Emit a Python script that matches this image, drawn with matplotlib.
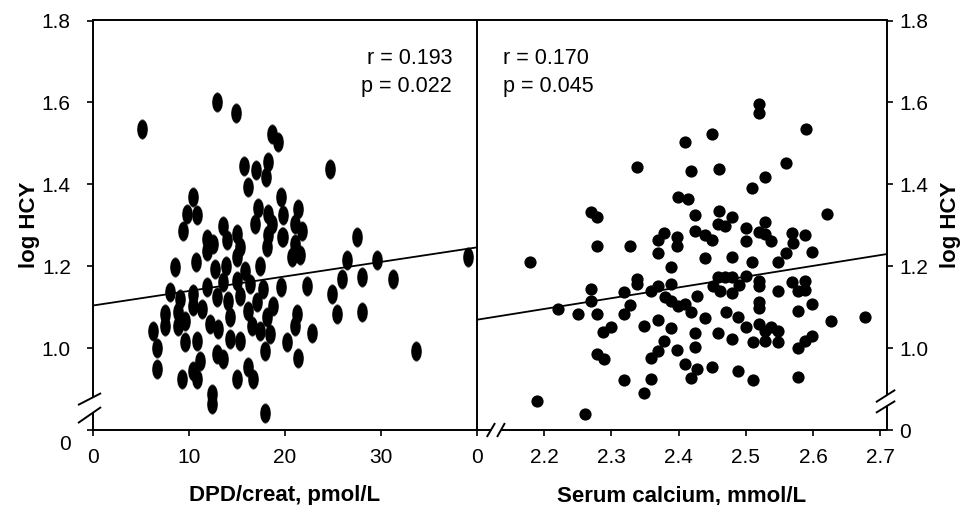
import numpy as np
import matplotlib
matplotlib.use("Agg")
import matplotlib.pyplot as plt
from matplotlib.transforms import ScaledTranslation

plt.rcParams['font.family'] = ['Liberation Sans', 'DejaVu Sans']

# left panel: DPD/creat (pmol/L) vs log HCY
dpd = [5.07, 12.89, 14.86, 18.61, 19.30, 15.76, 16.95, 18.20, 18.02, 16.18,
       19.58, 10.45, 9.76, 10.80, 9.41, 13.57, 16.88, 18.26, 18.61, 18.26,
       19.66, 11.84, 12.53, 13.93, 14.97, 15.31, 18.09, 11.84, 24.69, 21.39,
       21.04, 19.82, 21.74, 21.04, 21.56, 27.47, 26.43, 29.55, 39.09, 20.70,
       19.58, 22.26, 25.91, 27.99, 31.28, 24.86, 21.22, 21.04, 22.78, 25.39,
       27.99, 20.18, 21.39, 33.65, 8.54, 10.73, 14.97, 12.71, 13.57, 14.97,
       16.35, 17.74, 8.02, 9.06, 10.45, 11.84, 12.89, 7.50, 8.89, 10.45,
       11.32, 14.27, 16.18, 17.05, 18.09, 18.78, 7.50, 8.89, 6.28, 12.19,
       13.05, 14.27, 15.31, 17.40, 18.44, 6.64, 9.58, 10.80, 12.89, 13.57,
       17.92, 6.64, 11.15, 10.45, 16.18, 16.70, 14.97, 9.24, 10.80, 12.36,
       12.36, 17.92, 13.85, 15.83, 14.06, 15.31, 9.58, 16.56, 17.40, 19.79,
       17.19]
hcy_dpd = [1.536, 1.601, 1.575, 1.524, 1.503, 1.444, 1.434, 1.454, 1.419, 1.393,
           1.370, 1.369, 1.328, 1.324, 1.287, 1.299, 1.304, 1.328, 1.304, 1.275,
           1.271, 1.267, 1.255, 1.263, 1.279, 1.246, 1.246, 1.236, 1.438, 1.340,
           1.304, 1.271, 1.287, 1.255, 1.228, 1.271, 1.216, 1.214, 1.222, 1.222,
           1.150, 1.152, 1.169, 1.173, 1.169, 1.132, 1.083, 1.055, 1.038, 1.083,
           1.087, 1.015, 0.977, 0.993, 1.197, 1.210, 1.222, 1.193, 1.161, 1.165,
           1.157, 1.144, 1.136, 1.120, 1.132, 1.148, 1.124, 1.083, 1.087, 1.104,
           1.095, 1.075, 1.091, 1.112, 1.075, 1.104, 1.055, 1.055, 1.042, 1.059,
           1.047, 1.022, 1.018, 1.042, 1.034, 1.001, 1.014, 1.018, 0.985, 0.973,
           0.993, 0.949, 0.969, 0.944, 0.953, 0.924, 0.924, 0.924, 0.924, 0.887,
           0.863, 0.842, 1.201, 1.189, 1.116, 1.128, 1.067, 1.055, 1.201, 1.324,
           1.341]

# right panel: serum calcium (mmol/L) vs log HCY
calcium = [2.409, 2.338, 2.418, 2.399, 2.414, 2.269, 2.278, 2.424, 2.424, 2.278,
           2.327, 2.378, 2.369, 2.369, 2.398, 2.398, 2.179, 2.388, 2.338, 2.338,
           2.269, 2.269, 2.319, 2.359, 2.370, 2.388, 2.379, 2.389, 2.399, 2.409,
           2.419, 2.220, 2.250, 2.278, 2.327, 2.319, 2.299, 2.288, 2.349, 2.370,
           2.388, 2.424, 2.378, 2.369, 2.359, 2.398, 2.424, 2.278, 2.289, 2.409,
           2.419, 2.319, 2.359, 2.349, 2.189, 2.260, 2.520, 2.520, 2.449, 2.589,
           2.460, 2.559, 2.528, 2.509, 2.460, 2.479, 2.459, 2.469, 2.439, 2.449,
           2.500, 2.528, 2.520, 2.528, 2.500, 2.538, 2.569, 2.570, 2.588, 2.620,
           2.439, 2.479, 2.509, 2.559, 2.599, 2.548, 2.459, 2.469, 2.479, 2.451,
           2.461, 2.479, 2.490, 2.500, 2.520, 2.520, 2.548, 2.569, 2.588, 2.578,
           2.588, 2.427, 2.520, 2.520, 2.599, 2.578, 2.470, 2.439, 2.488, 2.500,
           2.520, 2.538, 2.548, 2.528, 2.627, 2.678, 2.459, 2.479, 2.510, 2.528,
           2.548, 2.599, 2.588, 2.578, 2.449, 2.427, 2.488, 2.510, 2.578]
hcy_ca = [1.503, 1.442, 1.432, 1.369, 1.365, 1.332, 1.321, 1.324, 1.287, 1.250,
          1.249, 1.281, 1.264, 1.232, 1.271, 1.250, 1.210, 1.197, 1.169, 1.157,
          1.144, 1.116, 1.136, 1.140, 1.152, 1.157, 1.124, 1.116, 1.104, 1.108,
          1.087, 1.095, 1.083, 1.083, 1.106, 1.083, 1.052, 1.040, 1.055, 1.069,
          1.049, 1.038, 1.018, 0.993, 0.977, 0.995, 1.003, 0.985, 0.973, 0.961,
          0.928, 0.922, 0.924, 0.891, 0.871, 0.840, 1.597, 1.574, 1.524, 1.534,
          1.438, 1.453, 1.418, 1.392, 1.334, 1.320, 1.302, 1.297, 1.275, 1.263,
          1.294, 1.307, 1.283, 1.279, 1.261, 1.261, 1.281, 1.256, 1.277, 1.328,
          1.220, 1.222, 1.210, 1.232, 1.234, 1.210, 1.173, 1.173, 1.173, 1.152,
          1.140, 1.134, 1.155, 1.175, 1.163, 1.152, 1.139, 1.161, 1.163, 1.140,
          1.142, 1.128, 1.112, 1.098, 1.108, 1.090, 1.087, 1.073, 1.077, 1.052,
          1.059, 1.052, 1.042, 1.042, 1.067, 1.077, 1.036, 1.022, 1.016, 1.018,
          1.016, 1.030, 1.018, 1.000, 0.953, 0.949, 0.943, 0.922, 0.930]

# regression lines
dpd_fit = (1.104, 0.00355)      # intercept, slope
ca_fit = (0.517, 0.263)

stats_dpd = ["r = 0.193", "p = 0.022"]
stats_ca = ["r = 0.170", "p = 0.045"]

y_ticks = [0.8, 1.0, 1.2, 1.4, 1.6, 1.8]
y_labels = ["0", "1.0", "1.2", "1.4", "1.6", "1.8"]
dpd_ticks = [0, 10, 20, 30]
ca_ticks = [2.1, 2.2, 2.3, 2.4, 2.5, 2.6, 2.7]
ca_labels = ["0", "2.2", "2.3", "2.4", "2.5", "2.6", "2.7"]

# jagged, tall blob marker for the left panel (streaky top and bottom)
t = np.linspace(0, 2 * np.pi, 61)[:-1]
spike = np.where(np.abs(np.sin(t)) > 0.45, 1 + 0.22 * (np.arange(t.size) % 2), 1.0)
blob = np.column_stack([0.6 * np.cos(t), np.sin(t) * spike])

LW = 1.4
TICK_FS = 15
fig = plt.figure(figsize=(9.66, 5.05), dpi=100)
ax1 = fig.add_axes([93 / 966, 75 / 505, 384 / 966, 409.5 / 505])
ax2 = fig.add_axes([477 / 966, 75 / 505, 410 / 966, 409.5 / 505])

ax1.scatter(dpd, hcy_dpd, marker=blob, s=15.5 ** 2, color="black", linewidths=0)
xs = np.array([0, 40])
ax1.plot(xs, dpd_fit[0] + dpd_fit[1] * xs, color="black", lw=1.3)

ax2.scatter(calcium, hcy_ca, marker="o", s=8.8 ** 2, color="black", linewidths=0)
xs = np.array([2.1, 2.71])
ax2.plot(xs, ca_fit[0] + ca_fit[1] * xs, color="black", lw=1.3)

ax1.set_xlim(0, 40)
ax2.set_xlim(2.1, 2.71)
for ax in (ax1, ax2):
    ax.set_ylim(0.8, 1.8)
    ax.set_yticks(y_ticks)
    ax.set_yticklabels(y_labels)
    ax.tick_params(direction="out", length=4, width=1.2, labelsize=TICK_FS, colors="black")
    ax.tick_params(axis="x", pad=9)
    for s in ax.spines.values():
        s.set_linewidth(LW)

ax1.tick_params(axis="y", pad=12)
ax2.tick_params(axis="y", pad=5)
ax1.set_xticks(dpd_ticks)
ax2.set_xticks(ca_ticks)
ax2.set_xticklabels(ca_labels)
ax2.yaxis.tick_right()
ax2.yaxis.set_label_position("right")

# the "0" under the left break sits a little below the axis line
zero_lab = ax1.get_yticklabels()[0]
zero_lab.set_transform(zero_lab.get_transform() + ScaledTranslation(0, -0.12, fig.dpi_scale_trans))

ax1.spines["right"].set_visible(False)
ax1.spines["left"].set_visible(False)
ax2.spines["right"].set_visible(False)
ax2.spines["bottom"].set_visible(False)

kw = dict(color="black", lw=LW, clip_on=False, solid_capstyle="butt")
# left spine with break
ax1.plot([0, 0], [0, 0.043], transform=ax1.transAxes, **kw)
ax1.plot([0, 0], [0.079, 1], transform=ax1.transAxes, **kw)
ax1.plot([-0.039, 0.021], [0.061, 0.090], transform=ax1.transAxes, **kw)
ax1.plot([-0.039, 0.021], [0.017, 0.056], transform=ax1.transAxes, **kw)
# right spine with break
ax2.plot([1, 1], [0, 0.058], transform=ax2.transAxes, **kw)
ax2.plot([1, 1], [0.085, 1], transform=ax2.transAxes, **kw)
ax2.plot([0.973, 1.02], [0.068, 0.098], transform=ax2.transAxes, **kw)
ax2.plot([0.973, 1.02], [0.042, 0.071], transform=ax2.transAxes, **kw)
# bottom spine of right panel with break
ax2.plot([0, 0.034], [0, 0], transform=ax2.transAxes, **kw)
ax2.plot([0.0585, 1], [0, 0], transform=ax2.transAxes, **kw)
ax2.plot([0.024, 0.044], [-0.017, 0.017], transform=ax2.transAxes, **kw)
ax2.plot([0.049, 0.068], [-0.017, 0.017], transform=ax2.transAxes, **kw)

ax1.text(0.935, 0.893, stats_dpd[0], transform=ax1.transAxes, ha="right", va="baseline", fontsize=15.5)
ax1.text(0.935, 0.825, stats_dpd[1], transform=ax1.transAxes, ha="right", va="baseline", fontsize=15.5)
ax2.text(0.063, 0.893, stats_ca[0], transform=ax2.transAxes, ha="left", va="baseline", fontsize=15.5)
ax2.text(0.063, 0.825, stats_ca[1], transform=ax2.transAxes, ha="left", va="baseline", fontsize=15.5)

ax1.set_xlabel("DPD/creat, pmol/L", fontsize=16, fontweight="bold", labelpad=13)
ax2.set_xlabel("Serum calcium, mmol/L", fontsize=16, fontweight="bold", labelpad=13)
ax1.set_ylabel("log HCY", fontsize=16, fontweight="bold", labelpad=1)
ax2.set_ylabel("log HCY", fontsize=16, fontweight="bold", labelpad=8)

fig.savefig("out.png", dpi=100)
